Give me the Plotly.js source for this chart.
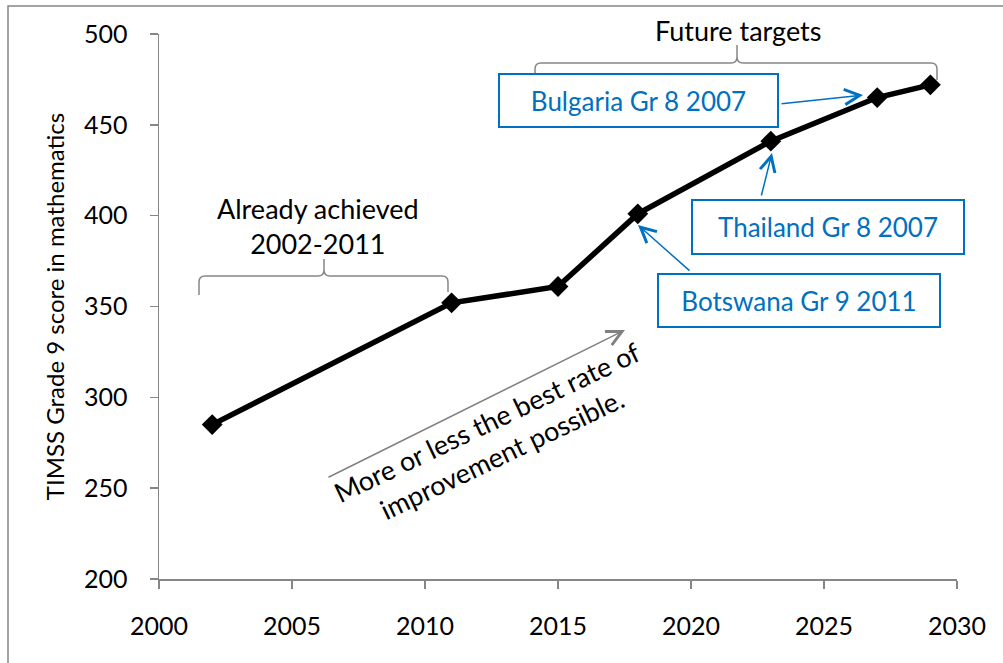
<!DOCTYPE html>
<html><head><meta charset="utf-8">
<script src="https://cdn.plot.ly/plotly-3.0.1.min.js"></script>
<style>html,body{margin:0;padding:0;background:#fff;}#chart{width:1003px;height:663px;}</style>
</head><body><div id="chart"></div>
<script>
// ---- data ----
const years = [2002, 2011, 2015, 2018, 2023, 2027, 2029];
const scores = [285, 352, 361, 401, 441, 465, 472];
const xTicks = [2000, 2005, 2010, 2015, 2020, 2025, 2030];
const yTicks = [200, 250, 300, 350, 400, 450, 500];
const yTitle = 'TIMSS Grade 9 score in mathematics';
const labelAchieved = 'Already achieved<br>2002-2011';
const labelFuture = 'Future targets';
const labelRate = 'More or less the best rate of<br>improvement possible.';
const boxBulgaria = 'Bulgaria Gr 8 2007';
const boxThailand = 'Thailand Gr 8 2007';
const boxBotswana = 'Botswana Gr 9 2011';

// ---- layout geometry (pixel helpers) ----
const W = 1003, H = 663;
const L = 159, R = 957, T = 34, B = 579;
const X = px => 2000 + (px - L) * 30 / (R - L);
const Y = py => 500 - (py - T) * 300 / (B - T);
const PX = px => (px - L) / (R - L);
const PY = py => (B - py) / (B - T);
function path(cmds) {
  return cmds.map(c => {
    if (typeof c === 'string') return c;
    return X(c[0]).toFixed(4) + ',' + Y(c[1]).toFixed(4);
  }).join(' ');
}
const FONT = 'Lato, "Open Sans", sans-serif';
const BLUE = '#0070C0';
const GRAY = '#868686';

const trace = {
  x: years, y: scores, type: 'scatter', mode: 'lines+markers',
  line: {color: '#000', width: 5.5},
  marker: {symbol: 'diamond', size: 16, color: '#000'},
  cliponaxis: false, hoverinfo: 'x+y'
};

const bracketLeft = path(['M', [199, 295], 'L', [199, 282], 'Q', [199, 276], [205, 276], 'L', [318, 276], 'Q', [324, 276], [324, 270], 'L', [324, 259], 'M', [324, 270], 'Q', [324, 276], [330, 276], 'L', [442, 276], 'Q', [448, 276], [448, 282], 'L', [448, 292]]);
const bracketRight = path(['M', [535, 82], 'L', [535, 69], 'Q', [535, 63], [541, 63], 'L', [731, 63], 'Q', [737, 63], [737, 57], 'L', [737, 45], 'M', [737, 57], 'Q', [737, 63], [743, 63], 'L', [931, 63], 'Q', [937, 63], [937, 69], 'L', [937, 80]]);

const shapes = [
  {type: 'rect', xref: 'paper', yref: 'paper', x0: PX(8), x1: PX(1012), y0: PY(672), y1: PY(6), line: {color: GRAY, width: 1.5}},
  {type: 'path', xref: 'x', yref: 'y', path: bracketLeft, line: {color: GRAY, width: 1.5}},
  {type: 'path', xref: 'x', yref: 'y', path: bracketRight, line: {color: GRAY, width: 1.5}}
];

function box(text, x0, x1, y0, y1) {
  return {x: X((x0 + x1) / 2), y: Y((y0 + y1) / 2), xref: 'x', yref: 'y', text: text, showarrow: false,
    xanchor: 'center', yanchor: 'middle', width: x1 - x0 - 4, height: y1 - y0 - 4,
    bordercolor: BLUE, borderwidth: 2, borderpad: 0, bgcolor: '#fff',
    font: {family: FONT, size: 26, color: BLUE}};
}
function arrow(tx, ty, hx, hy, color) {
  return {x: X(hx), y: Y(hy), xref: 'x', yref: 'y', ax: tx - hx, ay: ty - hy, text: '',
    showarrow: true, arrowhead: 5, arrowsize: 2, arrowwidth: 1.5, arrowcolor: color, standoff: 0, startstandoff: 0};
}

const annotations = [
  {x: X(318), y: Y(226), xref: 'x', yref: 'y', text: labelAchieved, showarrow: false, xanchor: 'center', yanchor: 'middle',
    font: {family: FONT, size: 27, color: '#000'}},
  {x: PX(738), y: PY(30), xref: 'paper', yref: 'paper', text: labelFuture, showarrow: false, xanchor: 'center', yanchor: 'middle',
    font: {family: FONT, size: 27, color: '#000'}},
  {x: X(494), y: Y(438), xref: 'x', yref: 'y', text: labelRate, showarrow: false, xanchor: 'center', yanchor: 'middle',
    textangle: -25.5, font: {family: FONT, size: 27, color: '#000'}},
  arrow(327, 478, 625, 330, '#808080'),
  arrow(780, 104, 863, 95, BLUE),
  arrow(761, 197, 772, 153, BLUE),
  arrow(691, 272, 638, 225, BLUE),
  box(boxBulgaria, 498, 779, 73, 128),
  box(boxThailand, 691, 965, 199, 255),
  box(boxBotswana, 657, 941, 273, 328)
];

const layout = {
  width: W, height: H,
  margin: {l: L, r: W - R, t: T, b: H - B, pad: 0},
  paper_bgcolor: '#fff', plot_bgcolor: '#fff',
  showlegend: false,
  font: {family: FONT, size: 24, color: '#000'},
  xaxis: {range: [2000, 2030], tickvals: xTicks, ticktext: xTicks.map(String), showgrid: false, zeroline: false,
    showline: true, linecolor: GRAY, linewidth: 1.5, ticks: 'outside', ticklen: 8, tickwidth: 1.5, tickcolor: GRAY,
    tickfont: {family: FONT, size: 25, color: '#000'}, ticklabelstandoff: 16, fixedrange: true},
  yaxis: {range: [200, 500], tickvals: yTicks, ticktext: yTicks.map(String), showgrid: false, zeroline: false,
    showline: true, linecolor: GRAY, linewidth: 1.5, ticks: 'outside', ticklen: 8, tickwidth: 1.5, tickcolor: GRAY,
    tickfont: {family: FONT, size: 25, color: '#000'}, ticklabelstandoff: 17, fixedrange: true,
    title: {text: yTitle, font: {family: FONT, size: 24, color: '#000'}, standoff: 12}},
  shapes: shapes,
  annotations: annotations
};

Plotly.newPlot('chart', [trace], layout, {displayModeBar: false, staticPlot: true});
</script></body></html>
